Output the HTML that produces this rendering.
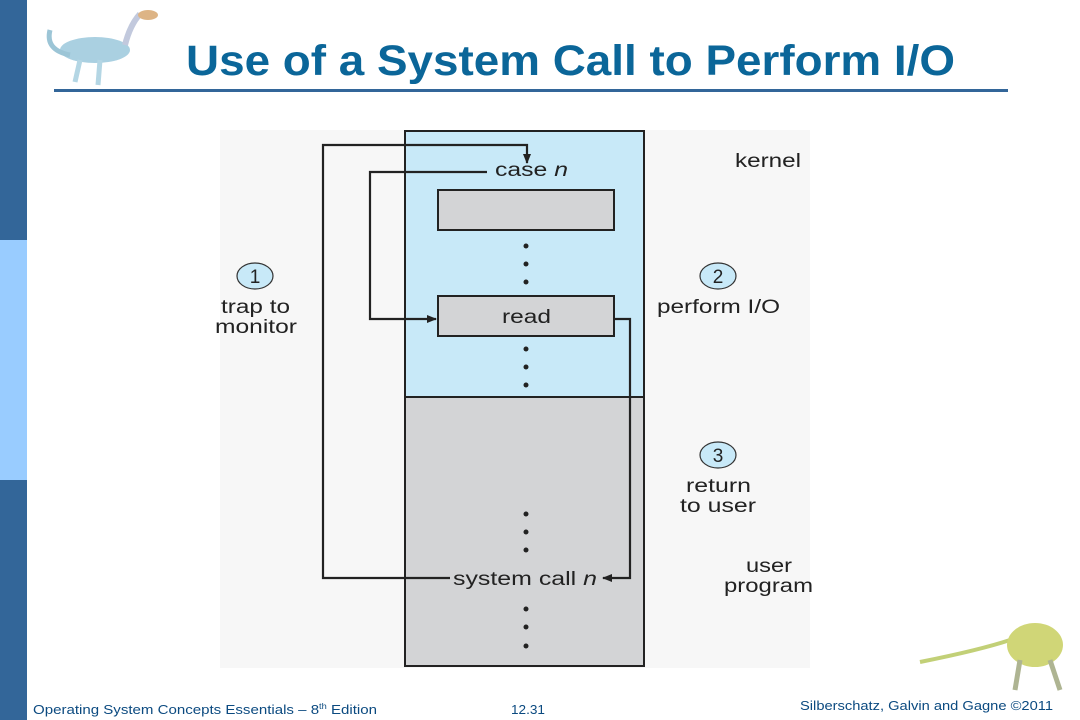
<!DOCTYPE html>
<html><head><meta charset="utf-8"><style>
html,body{margin:0;padding:0;background:#fff;}
body{width:1080px;height:720px;overflow:hidden;position:relative;font-family:"Liberation Sans",sans-serif;}
</style></head><body>
<svg width="1080" height="720" viewBox="0 0 1080 720" xmlns="http://www.w3.org/2000/svg" style="position:absolute;left:0;top:0">
<defs>
<marker id="ah" markerWidth="10" markerHeight="10" refX="9" refY="5" orient="auto" markerUnits="userSpaceOnUse">
<path d="M0,1 L10,5 L0,9 Z" fill="#222"/></marker>
</defs>
<rect x="0" y="0" width="27" height="720" fill="#336699"/>
<rect x="0" y="240" width="27" height="240" fill="#99ccff"/>
<g opacity="0.85">
<ellipse cx="95" cy="50" rx="35" ry="13" fill="#9cc8dc"/>
<path d="M50,30 Q45,50 70,55" stroke="#8bbbd0" stroke-width="5" fill="none"/>
<path d="M125,45 Q130,25 140,14" stroke="#b8c0d8" stroke-width="6" fill="none"/>
<ellipse cx="148" cy="15" rx="10" ry="5" fill="#d8a870"/>
<path d="M80,60 L75,82 M100,60 L98,85" stroke="#a8d0e0" stroke-width="5"/>
</g>
<text x="186" y="75" font-size="43" font-weight="bold" fill="#0b6699" textLength="769" lengthAdjust="spacingAndGlyphs">Use of a System Call to Perform I/O</text>
<rect x="54" y="89" width="954" height="3" fill="#336699"/>
<rect x="220" y="130" width="590" height="538" fill="#f7f7f7"/>
<rect x="405" y="131" width="239" height="266" fill="#c8e9f8"/>
<rect x="405" y="397" width="239" height="269" fill="#d3d4d6"/>
<rect x="405" y="131" width="239" height="535" fill="none" stroke="#222" stroke-width="2"/>
<line x1="405" y1="397" x2="644" y2="397" stroke="#222" stroke-width="2"/>
<rect x="438" y="190" width="176" height="40" fill="#d3d4d6" stroke="#222" stroke-width="2"/>
<rect x="438" y="296" width="176" height="40" fill="#d3d4d6" stroke="#222" stroke-width="2"/>
<g font-size="19" fill="#222">
<text x="502" y="323" textLength="49" lengthAdjust="spacingAndGlyphs">read</text>
<text x="495" y="176" textLength="73" lengthAdjust="spacingAndGlyphs">case <tspan font-style="italic">n</tspan></text>
<text x="453" y="585" textLength="144" lengthAdjust="spacingAndGlyphs">system call <tspan font-style="italic">n</tspan></text>
<text x="221" y="313" textLength="69" lengthAdjust="spacingAndGlyphs">trap to</text>
<text x="215" y="333" textLength="82" lengthAdjust="spacingAndGlyphs">monitor</text>
<text x="657" y="313" textLength="123" lengthAdjust="spacingAndGlyphs">perform I/O</text>
<text x="735" y="167" textLength="66" lengthAdjust="spacingAndGlyphs">kernel</text>
<text x="686" y="492" textLength="65" lengthAdjust="spacingAndGlyphs">return</text>
<text x="680" y="512" textLength="76" lengthAdjust="spacingAndGlyphs">to user</text>
<text x="746" y="572" textLength="46" lengthAdjust="spacingAndGlyphs">user</text>
<text x="724" y="592" textLength="89" lengthAdjust="spacingAndGlyphs">program</text>
</g>
<g fill="#222">
<circle cx="526" cy="246" r="2.5"/><circle cx="526" cy="264" r="2.5"/><circle cx="526" cy="282" r="2.5"/>
<circle cx="526" cy="349" r="2.5"/><circle cx="526" cy="367" r="2.5"/><circle cx="526" cy="385" r="2.5"/>
<circle cx="526" cy="514" r="2.5"/><circle cx="526" cy="532" r="2.5"/><circle cx="526" cy="550" r="2.5"/>
<circle cx="526" cy="609" r="2.5"/><circle cx="526" cy="627" r="2.5"/><circle cx="526" cy="646" r="2.5"/>
</g>
<g stroke="#222" stroke-width="2.2" fill="none">
<path d="M450,578 L323,578 L323,145 L527,145 L527,163" marker-end="url(#ah)"/>
<path d="M487,172 L370,172 L370,319 L436,319" marker-end="url(#ah)"/>
<path d="M614,319 L630,319 L630,578 L603,578" marker-end="url(#ah)"/>
</g>
<g font-size="19" fill="#222" text-anchor="middle">
<ellipse cx="255" cy="276" rx="18" ry="13" fill="#c8e9f8" stroke="#333" stroke-width="1.2"/>
<text x="255" y="283">1</text>
<ellipse cx="718" cy="276" rx="18" ry="13" fill="#c8e9f8" stroke="#333" stroke-width="1.2"/>
<text x="718" y="283">2</text>
<ellipse cx="718" cy="455" rx="18" ry="13" fill="#c8e9f8" stroke="#333" stroke-width="1.2"/>
<text x="718" y="462">3</text>
</g>
<g opacity="0.85">
<path d="M920,662 Q980,650 1010,640" stroke="#b8c860" stroke-width="4" fill="none"/>
<ellipse cx="1035" cy="645" rx="28" ry="22" fill="#c8d060"/>
<path d="M1020,660 L1015,690 M1050,660 L1060,690" stroke="#a0a880" stroke-width="5"/>
</g>
<text x="33" y="714" font-size="13" fill="#0b4a80" textLength="344" lengthAdjust="spacingAndGlyphs">Operating System Concepts Essentials – 8<tspan font-size="8" dy="-5">th</tspan><tspan dy="5"> Edition</tspan></text>
<text x="511" y="714" font-size="13" fill="#0b4a80" textLength="34" lengthAdjust="spacingAndGlyphs">12.31</text>
<text x="800" y="710" font-size="13" fill="#0b4a80" textLength="253" lengthAdjust="spacingAndGlyphs">Silberschatz, Galvin and Gagne ©2011</text>
</svg>
</body></html>
